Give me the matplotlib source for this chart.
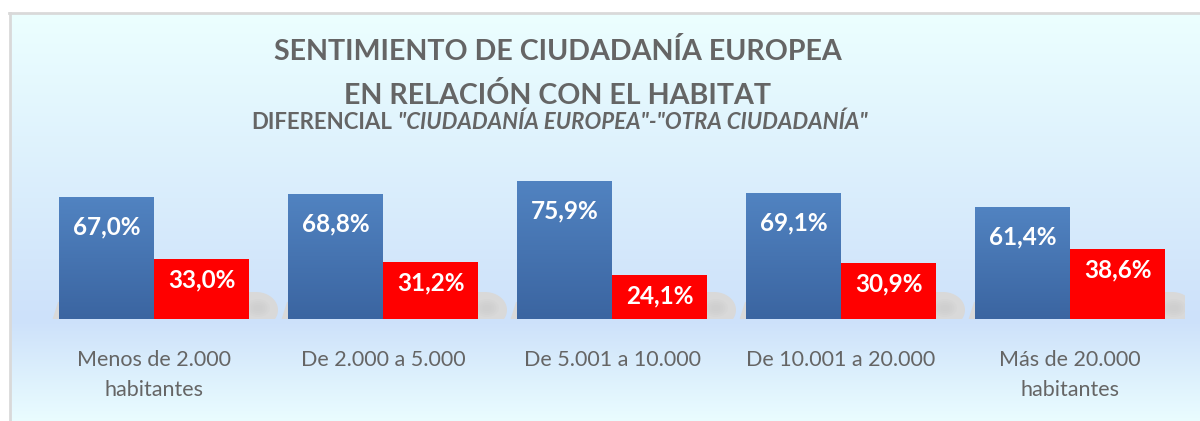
import matplotlib
matplotlib.use("Agg")
import matplotlib.pyplot as plt
import numpy as np
from matplotlib.patches import Polygon, Ellipse
from matplotlib.lines import Line2D
from matplotlib.colors import LinearSegmentedColormap

# ---------------- data ----------------
categories = ["Menos de 2.000\nhabitantes", "De 2.000 a 5.000", "De 5.001 a 10.000",
              "De 10.001 a 20.000", "Más de 20.000\nhabitantes"]
europea = [67.0, 68.8, 75.9, 69.1, 61.4]
otra = [33.0, 31.2, 24.1, 30.9, 38.6]
title_l1 = "SENTIMIENTO DE CIUDADANÍA EUROPEA"
title_l2 = "EN RELACIÓN CON EL HABITAT"
sub_a = "DIFERENCIAL"
sub_b = '"CIUDADANÍA EUROPEA"-"OTRA CIUDADANÍA"'

FONT = "Lato"
GRAY = "#656565"
W, H = 1200, 421
fig = plt.figure(figsize=(W / 100, H / 100), dpi=100)
fig.patch.set_facecolor("white")

# ---------------- background gradient ----------------
top_px, base_px = 13, 320
bg = fig.add_axes([10 / W, 0, 1 - 10 / W, (H - top_px) / H])
bg.set_axis_off()
rows = np.arange(top_px, H)
stops = [top_px, base_px, H]
c_top = np.array([236, 255, 255]) / 255
c_mid = np.array([205, 225, 250]) / 255
c_bot = np.array([234, 253, 255]) / 255
grad = np.zeros((len(rows), 1, 3))
for k in range(3):
    grad[:, 0, k] = np.interp(rows, stops, [c_top[k], c_mid[k], c_bot[k]])
bg.imshow(grad, aspect="auto", extent=[0, 1, 0, 1], interpolation="bilinear")
fig.add_artist(Line2D([9 / W, 1], [1 - top_px / H] * 2, color="#d9d9d9", lw=2))
fig.add_artist(Line2D([10 / W] * 2, [0, 1 - top_px / H], color="#d9d9d9", lw=2))

# ---------------- main axes ----------------
step_px = 229.0
ypx = 1.82  # pixels per percentage point
ymax = 80
ax = fig.add_axes([39.5 / W, (H - 319) / H, 5 * step_px / W, ymax * ypx / H])
ax.patch.set_alpha(0)
for s in ax.spines.values():
    s.set_visible(False)
x = np.arange(len(categories))
bw = 95 / step_px

# soft shadows at the foot of each group (shape in pixel offsets)
th = np.linspace(np.pi / 2, -np.pi / 2 - 0.15, 40)
arc_x = 102 + 22 * np.cos(th)
arc_y = 9 + 18 * np.sin(th)
keep = arc_y >= -2
shape_px = np.vstack([
    [[-102, -2], [-96, 17], [-40, 24], [60, 27]],
    np.column_stack([arc_x[keep], arc_y[keep]]),
    [[122, -2]],
])
for xc in x:
    pts = np.column_stack([xc + shape_px[:, 0] / step_px, shape_px[:, 1] / ypx])
    ax.add_patch(Polygon(pts, closed=True, fc="#d9d9d9", ec="none", zorder=1))
    for k in range(4):
        ax.add_patch(Ellipse((xc + 104 / step_px, 11 / ypx), (24 - 5 * k) / step_px,
                             (18 - 4 * k) / ypx, fc="#bababa", ec="none",
                             alpha=0.08, zorder=1.1))

blue_bars = ax.bar(x - bw / 2, europea, bw, color="#4673b0", zorder=3)
red_bars = ax.bar(x + bw / 2, otra, bw, color="#ff0000", zorder=3)

blue_cmap = LinearSegmentedColormap.from_list("b", ["#3b65a1", "#5183c1"])
g = np.linspace(0, 1, 100).reshape(-1, 1)
for p in blue_bars:
    bx, by = p.get_x(), p.get_y()
    im = ax.imshow(g, cmap=blue_cmap, origin="lower", aspect="auto",
                   extent=[bx, bx + p.get_width(), by, by + p.get_height()],
                   zorder=3.5)
    im.set_clip_path(p)

ax.set_xlim(-0.5, len(categories) - 0.5)
ax.set_ylim(0, ymax)
ax.set_yticks([])

def fmt(v):
    return f"{v:.1f}%".replace(".", ",")

for xi, v in zip(x, europea):
    ax.annotate(fmt(v), (xi - bw / 2, v), xytext=(0, -30 * 0.72), textcoords="offset points",
                ha="center", va="center", color="white", fontsize=17.5,
                fontweight="bold", family=FONT, zorder=5)
for xi, v in zip(x, otra):
    ax.annotate(fmt(v), (xi + bw / 2, v), xytext=(0, -21 * 0.72), textcoords="offset points",
                ha="center", va="center", color="white", fontsize=17.5,
                fontweight="bold", family=FONT, zorder=5)

ax.set_xticks(x)
ax.set_xticklabels(categories, family=FONT, fontsize=15.5, color=GRAY)
ax.tick_params(axis="x", length=0, pad=22)
for lab in ax.get_xticklabels():
    lab.set_linespacing(1.68)

# ---------------- titles ----------------
t1 = fig.text(558 / W, 1 - 51 / H, title_l1, ha="center", va="center", fontsize=20,
              fontweight="bold", color=GRAY, family=FONT)
t2 = fig.text(558 / W, 1 - 96 / H, title_l2, ha="center", va="center", fontsize=20,
              fontweight="bold", color=GRAY, family=FONT)
sa = fig.text(0, 1 - 122 / H, sub_a, ha="left", va="center", fontsize=13,
              fontweight="bold", color=GRAY, family=FONT)
sb = fig.text(0, 1 - 122 / H, sub_b, ha="left", va="center", fontsize=13,
              fontweight="bold", style="italic", color=GRAY, family=FONT)

fig.canvas.draw()
r = fig.canvas.get_renderer()
w1 = t1.get_window_extent(r).width
fs = 20 * 543 / w1 * 1.05
t1.set_fontsize(fs)
t2.set_fontsize(fs)
wa = sa.get_window_extent(r).width
wb = sb.get_window_extent(r).width
gap = 5.0
scale = (605 - gap) / (wa + wb) * 1.02
sa.set_fontsize(13 * scale)
sb.set_fontsize(13 * scale)
fig.canvas.draw()
wa = sa.get_window_extent(r).width
wb = sb.get_window_extent(r).width
left = 559.5 - (wa + wb + gap) / 2
sa.set_x(left / W)
sb.set_x((left + wa + gap) / W)

fig.savefig("out.png", dpi=100, facecolor=fig.get_facecolor())
